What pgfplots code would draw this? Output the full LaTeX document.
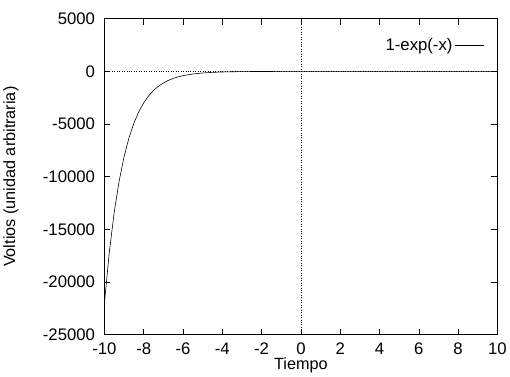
\documentclass[border=0pt]{standalone}
\usepackage{pgfplots}
\pgfplotsset{compat=1.18}
\usepackage{fontspec}
\setmainfont{Liberation Sans}
\usetikzlibrary{calc}
\begin{document}
\begin{tikzpicture}
\begin{axis}[
  scale only axis,
  width=398bp, height=320bp,
  xmin=-10, xmax=10, ymin=-25000, ymax=5000,
  xtick={-10,-8,...,10},
  ytick={-25000,-20000,-15000,-10000,-5000,0,5000},
  scaled y ticks=false,
  tick align=inside,
  major tick length=6bp,
  axis line style={line width=0.8pt},
  tick style={line width=0.6pt, black},
  /pgf/number format/assume math mode=true,
  /pgf/number format/1000 sep={},
  tick label style={font=\fontsize{17}{19}\selectfont},
  xticklabel style={yshift=-5bp},
  yticklabel style={xshift=-6bp},
  xlabel={Tiempo},
  ylabel={Voltios (unidad arbitraria)},
  label style={font=\fontsize{16.5}{18}\selectfont},
  xlabel style={yshift=4bp},
  ylabel style={yshift=18bp},
  legend style={draw=none, fill=none, at={(0.975,0.95)}, anchor=north east, font=\fontsize{17}{19}\selectfont},
  legend plot pos=right,
  legend cell align=right,
  legend image code/.code={\draw[#1] (0cm,0cm) -- (1.05cm,0cm);},
]
\addplot[black, dotted, line width=0.5pt, forget plot] coordinates {(-10,0) (10,0)};
\addplot[black, dotted, line width=0.5pt, forget plot] coordinates {(0,-25000) (0,5000)};
\addplot[black, line width=0.6pt] coordinates {
(-10,-22025.47) (-9.75,-17153.2) (-9.5,-13358.73) (-9.25,-10403.6) (-9,-8102.08)
(-8.75,-6309.7) (-8.5,-4913.77) (-8.25,-3826.6) (-8,-2979.96) (-7.75,-2320.6)
(-7.5,-1807.04) (-7.25,-1407.1) (-7,-1095.63) (-6.75,-853.1) (-6.5,-664.14)
(-6.25,-517.0) (-6,-402.43) (-5.5,-243.69) (-5,-147.41) (-4.5,-89.02)
(-4,-53.60) (-3.5,-32.12) (-3,-19.09) (-2.5,-11.18) (-2,-6.39) (-1,-1.72)
(0,0) (2,0.86) (5,0.99) (10,1)
};
\addlegendentry{1-exp(-x)\hspace{16bp}}
\coordinate (sw) at (rel axis cs:0,0);
\coordinate (ne) at (rel axis cs:1,1);
\end{axis}
\path[use as bounding box] ($(sw)+(-103bp,-41bp)$) rectangle ($(ne)+(9bp,19bp)$);
\end{tikzpicture}
\end{document}
